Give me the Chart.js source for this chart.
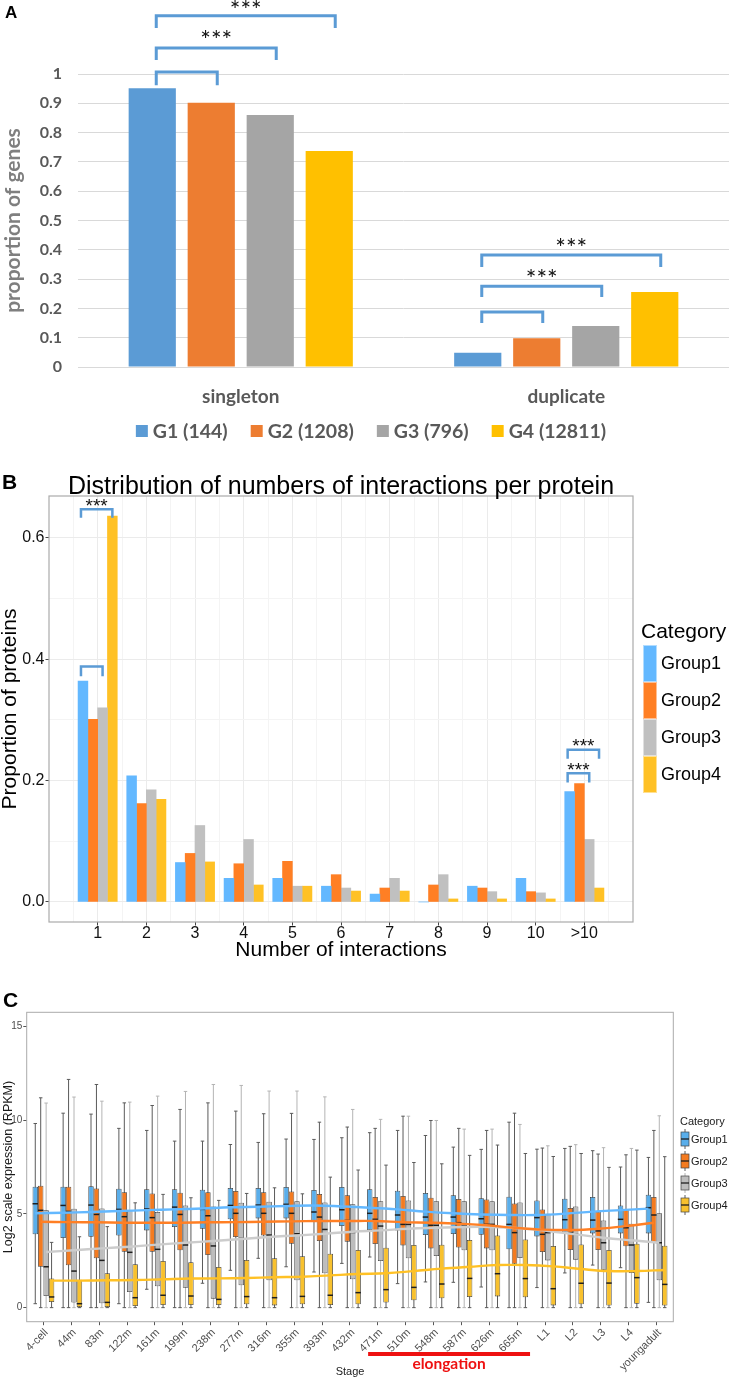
<!DOCTYPE html>
<html>
<head>
<meta charset="utf-8">
<script src="https://cdn.jsdelivr.net/npm/chart.js@4/dist/chart.umd.min.js"></script>
<style>
html, body { margin: 0; padding: 0; background: #fff; }
#page { position: relative; width: 729px; height: 1379px; overflow: hidden; background: #fff; }
canvas { position: absolute; left: 0; }
.tag { position: absolute; font-family: "Liberation Sans", Arial, sans-serif; font-weight: bold; line-height: 1; color: #000; }
</style>
</head>
<body>
<div id="page">
  <canvas id="chartA" width="729" height="460" style="top:0"></canvas>
  <canvas id="chartB" width="729" height="500" style="top:465px"></canvas>
  <canvas id="chartC" width="729" height="394" style="top:985px"></canvas>
  <div class="tag" style="left:5px;top:4px;font-size:17px">A</div>
  <div class="tag" style="left:2px;top:471px;font-size:21px">B</div>
  <div class="tag" style="left:3px;top:989px;font-size:21px">C</div>
</div>
<script>
// ---------- panel A data ----------
const categoriesA = ["singleton", "duplicate"];
const groupsA = ["G1 (144)", "G2 (1208)", "G3 (796)", "G4 (12811)"];
const g1A = [0.951, 0.049];
const g2A = [0.902, 0.098];
const g3A = [0.860, 0.140];
const g4A = [0.737, 0.256];

// ---------- panel B data ----------
const interactionX = [1, 2, 3, 4, 5, 6, 7, 8, 9, 10, 11];
const interactionLabels = ["1", "2", "3", "4", "5", "6", "7", "8", "9", "10", ">10"];
const groupsB = ["Group1", "Group2", "Group3", "Group4"];
const group1B = [0.364, 0.208, 0.065, 0.039, 0.039, 0.026, 0.013, 0, 0.026, 0.039, 0.182];
const group2B = [0.301, 0.162, 0.080, 0.063, 0.067, 0.045, 0.023, 0.028, 0.023, 0.017, 0.195];
const group3B = [0.320, 0.185, 0.126, 0.103, 0.026, 0.023, 0.039, 0.045, 0.017, 0.015, 0.103];
const group4B = [0.636, 0.169, 0.066, 0.028, 0.026, 0.018, 0.018, 0.005, 0.005, 0.005, 0.023];

// ---------- panel C data ----------
const stageLabels = ["4-cell", "44m", "83m", "122m", "161m", "199m", "238m", "277m", "316m", "355m", "393m", "432m",
  "471m", "510m", "548m", "587m", "626m", "665m", "L1", "L2", "L3", "L4", "youngadult"];

const g1High = [9.82, 10.37, 10.32, 9.56, 9.45, 8.88, 8.88, 8.70, 8.81, 8.99, 8.97, 9.06, 9.33, 9.45, 9.18, 8.56, 8.44, 9.89, 8.45, 8.49, 8.37, 7.50, 8.01];
const g1Q3 = [6.45, 6.45, 6.48, 6.34, 6.31, 6.32, 6.29, 6.38, 6.38, 6.43, 6.27, 6.43, 6.31, 6.23, 6.11, 5.99, 5.83, 5.91, 5.72, 5.81, 5.90, 5.45, 6.02];
const g1Med = [5.54, 5.45, 5.47, 5.24, 5.26, 5.36, 5.24, 5.45, 5.47, 5.51, 5.10, 5.22, 5.03, 4.94, 4.83, 4.83, 4.74, 4.44, 4.80, 4.69, 4.67, 4.71, 5.33];
const g1Q1 = [3.91, 3.71, 3.78, 3.85, 4.12, 4.30, 4.21, 4.71, 4.76, 4.76, 4.60, 4.35, 4.14, 4.12, 3.87, 3.93, 3.89, 3.11, 3.80, 3.96, 3.96, 3.96, 3.96];
const g1Low = [0.21, 0, 0, 0.21, 0.98, 0, 1.30, 1.99, 2.63, 2.18, 1.90, 2.36, 2.70, 1.28, 1.37, 1.35, 1.10, 0, 1.07, 1.85, 2.27, 2.13, 0.28];
const g1Trend = [5.03, 5.06, 5.10, 5.15, 5.20, 5.24, 5.29, 5.35, 5.38, 5.42, 5.45, 5.40, 5.33, 5.24, 5.12, 5.03, 4.97, 4.94, 4.94, 5.01, 5.12, 5.20, 5.28];

const g2High = [11.19, 12.17, 11.90, 10.92, 10.78, 10.57, 10.92, 10.48, 10.34, 10.36, 9.89, 9.63, 9.56, 10.21, 9.98, 9.56, 9.45, 10.37, 8.51, 8.60, 8.19, 8.15, 9.45];
const g2Q3 = [6.50, 6.45, 6.36, 6.16, 6.09, 6.13, 6.16, 6.22, 6.15, 6.20, 6.06, 5.99, 5.90, 5.95, 5.86, 5.79, 5.77, 5.56, 5.24, 5.31, 5.12, 5.24, 5.90];
const g2Med = [5.19, 5.13, 4.97, 4.85, 4.80, 4.97, 4.90, 5.03, 5.03, 5.03, 4.83, 4.65, 4.71, 4.44, 4.39, 4.53, 4.44, 4.00, 3.91, 4.00, 4.09, 4.26, 4.94];
const g2Q1 = [2.18, 2.26, 2.63, 2.98, 2.98, 3.06, 2.81, 3.77, 3.85, 3.41, 3.55, 3.52, 3.39, 3.32, 3.16, 3.21, 3.16, 2.34, 2.97, 3.07, 3.07, 3.27, 3.46];
const g2Low = [0, 0, 0, 0, 0, 0, 0, 0, 0, 0, 0, 0, 0, 0, 0, 0, 0, 0, 0, 0, 0, 0, 0];
const g2Trend = [4.58, 4.56, 4.55, 4.53, 4.53, 4.53, 4.55, 4.56, 4.58, 4.60, 4.62, 4.62, 4.62, 4.56, 4.53, 4.48, 4.39, 4.26, 4.16, 4.14, 4.21, 4.35, 4.53];

const g3High = [10.91, 11.23, 11.01, 10.96, 11.28, 11.53, 11.90, 11.85, 11.55, 11.55, 11.24, 10.57, 10.04, 10.21, 9.98, 9.52, 9.52, 9.77, 8.63, 8.69, 8.53, 8.49, 10.23];
const g3Q3 = [5.19, 5.28, 5.29, 5.19, 5.10, 5.45, 5.40, 5.59, 5.65, 5.68, 5.61, 5.51, 5.67, 5.72, 5.68, 5.68, 5.67, 5.61, 5.01, 5.40, 4.65, 4.48, 5.03];
const g3Med = [2.18, 1.95, 2.52, 2.95, 3.11, 3.34, 3.29, 3.69, 3.87, 3.94, 4.17, 4.01, 4.35, 4.44, 4.39, 4.35, 4.44, 4.26, 4.00, 3.91, 3.46, 3.34, 3.46];
const g3Q1 = [0.62, 0.27, 0.23, 0.83, 1.14, 1.06, 0.48, 1.19, 1.46, 1.46, 1.83, 1.51, 2.49, 2.63, 2.75, 3.06, 3.06, 2.65, 2.52, 2.56, 2.02, 1.85, 1.46];
const g3Low = [0, 0, 0, 0, 0, 0, 0, 0, 0, 0, 0, 0, 0, 0, 0, 0, 0, 0, 0, 0, 0, 0, 0];
const g3Trend = [2.97, 3.06, 3.16, 3.25, 3.36, 3.46, 3.55, 3.66, 3.77, 3.85, 3.94, 4.05, 4.12, 4.21, 4.26, 4.30, 4.30, 4.23, 4.09, 3.91, 3.73, 3.59, 3.46];

const g4High = [3.48, 3.78, 4.32, 5.59, 6.04, 5.86, 5.72, 6.09, 6.39, 6.07, 6.96, 7.34, 7.60, 7.74, 7.67, 8.12, 8.67, 8.22, 8.06, 8.22, 7.48, 8.40, 8.05];
const g4Q3 = [1.56, 1.49, 1.83, 2.31, 2.49, 2.42, 2.17, 2.54, 2.63, 2.74, 2.88, 3.07, 3.20, 3.34, 3.36, 3.61, 3.85, 3.64, 3.29, 3.37, 3.07, 3.41, 3.30];
const g4Med = [0.57, 0.21, 0.28, 0.53, 0.66, 0.62, 0.44, 0.59, 0.53, 0.60, 0.66, 0.80, 0.96, 1.08, 1.26, 1.56, 1.81, 1.55, 1.01, 1.30, 1.31, 1.60, 1.24];
const g4Q1 = [0.30, 0, 0, 0.09, 0.14, 0.14, 0.14, 0.18, 0.12, 0.18, 0.14, 0.18, 0.27, 0.39, 0.50, 0.57, 0.60, 0.55, 0.12, 0.18, 0.11, 0.21, 0.11];
const g4Low = [0, 0, 0, 0, 0, 0, 0, 0, 0, 0, 0, 0, 0, 0, 0, 0, 0, 0, 0, 0, 0, 0, 0];
const g4Trend = [1.44, 1.44, 1.46, 1.47, 1.51, 1.55, 1.56, 1.58, 1.62, 1.65, 1.72, 1.79, 1.83, 1.95, 2.08, 2.18, 2.27, 2.27, 2.20, 2.06, 1.95, 1.95, 2.01];

// ---------- styles ----------
const colorsA = ["#5B9BD5", "#ED7D31", "#A5A5A5", "#FFC000"];
const colorsB = ["#63B8FF", "#FF7F24", "#C0C0C0", "#FFC125"];
const boxFill = ["#5AAEEA", "#F47B20", "#BDBDBD", "#F8C12E"];
const trendColor = ["#63B8FF", "#FF7F24", "#CCCCCC", "#FFC125"];
const whiskerColor = ["#5A5A5A", "#5A5A5A", "#B4B4B4", "#5A5A5A"];
const bracketColor = "#5B9BD5";
const fontA = "Lato";
const fontB = "'Liberation Sans', Arial, sans-serif";

Chart.defaults.animation = false;
Chart.defaults.plugins.tooltip.enabled = false;
Chart.defaults.plugins.legend.display = false;

function drawBracket(ctx, x0, x1, yTop, yLeg, width) {
  ctx.save();
  ctx.strokeStyle = bracketColor;
  ctx.lineWidth = width;
  ctx.lineJoin = "miter";
  ctx.beginPath();
  ctx.moveTo(x0, yLeg);
  ctx.lineTo(x0, yTop);
  ctx.lineTo(x1, yTop);
  ctx.lineTo(x1, yLeg);
  ctx.stroke();
  ctx.restore();
}

// ================= Panel A =================
// [category, from group, to group, bracket value, leg value, stars value]
const bracketsA = [
  [0, 0, 1, 1.007, 0.962, null],
  [0, 0, 2, 1.089, 1.048, 1.133],
  [0, 0, 3, 1.199, 1.157, 1.235],
  [1, 0, 1, 0.188, 0.150, null],
  [1, 0, 2, 0.276, 0.239, 0.317],
  [1, 0, 3, 0.382, 0.341, 0.423]
];

const annotA = {
  id: "annotA",
  afterDraw(chart) {
    const ctx = chart.ctx, y = chart.scales.y;
    bracketsA.forEach(([c, a, b, top, leg, star]) => {
      const xa = chart.getDatasetMeta(a).data[c].x + 4;
      const xb = chart.getDatasetMeta(b).data[c].x + 6;
      drawBracket(ctx, xa, xb, y.getPixelForValue(top), y.getPixelForValue(leg), 3);
      if (star !== null) {
        ctx.save();
        ctx.fillStyle = "#111";
        ctx.font = "25px " + fontA;
        ctx.textAlign = "center";
        ctx.textBaseline = "alphabetic";
        ctx.fillText("***", (xa + xb) / 2, y.getPixelForValue(star) + 14);
        ctx.restore();
      }
    });
    // legend
    ctx.save();
    ctx.font = "bold 19.5px " + fontA;
    ctx.textBaseline = "middle";
    const gap = 23, box = 12, pad = 5;
    const widths = groupsA.map(g => box + pad + ctx.measureText(g).width);
    const total = widths.reduce((s, w) => s + w, 0) + gap * (groupsA.length - 1);
    let x = 371 - total / 2;
    const yc = 431;
    groupsA.forEach((g, k) => {
      ctx.fillStyle = colorsA[k];
      ctx.fillRect(x, yc - 6, box, box);
      ctx.fillStyle = "#595959";
      ctx.fillText(g, x + box + pad, yc + 1);
      x += widths[k] + gap;
    });
    ctx.restore();
  }
};

new Chart(document.getElementById("chartA"), {
  type: "bar",
  data: {
    labels: categoriesA,
    datasets: [g1A, g2A, g3A, g4A].map((d, k) => ({
      label: groupsA[k],
      data: d,
      backgroundColor: colorsA[k],
      categoryPercentage: 0.725,
      barPercentage: 0.8
    }))
  },
  options: {
    responsive: false,
    layout: { padding: { top: 74, left: 0, right: 0, bottom: 53 } },
    scales: {
      x: {
        grid: { display: false, drawTicks: false },
        border: { color: "#D9D9D9" },
        ticks: { padding: 18, color: "#595959", font: { family: fontA, weight: "bold", size: 19 } },
        afterFit: s => { s.height = 40; }
      },
      y: {
        min: 0, max: 1,
        ticks: {
          stepSize: 0.1, padding: 16, color: "#595959",
          font: { family: fontA, weight: "bold", size: 16 },
          callback: v => String(Math.round(v * 10) / 10)
        },
        grid: { color: "#D9D9D9", drawTicks: false },
        border: { display: false },
        title: {
          display: true, text: "proportion of genes", color: "#7F7F7F",
          font: { family: fontA, weight: "bold", size: 21, lineHeight: 1 },
          padding: { top: 3, bottom: 0 }
        },
        afterFit: s => { s.width = 78; }
      }
    }
  },
  plugins: [annotA]
});

// ================= Panel B =================
// [category index, from group, to group, bracket value, leg value, stars value]
const bracketsB = [
  [0, 0, 3, 0.647, 0.633, 0.660],
  [0, 0, 2, 0.388, 0.372, null],
  [10, 0, 3, 0.251, 0.236, 0.265],
  [10, 0, 2, 0.212, 0.197, 0.225]
];

const annotB = {
  id: "annotB",
  afterDraw(chart) {
    const ctx = chart.ctx, y = chart.scales.y, a = chart.chartArea;
    ctx.save();
    // panel border
    ctx.strokeStyle = "#ABABAB";
    ctx.lineWidth = 1.2;
    ctx.strokeRect(a.left, a.top, a.right - a.left, a.bottom - a.top);
    // title
    ctx.fillStyle = "#000";
    ctx.font = "25px " + fontB;
    ctx.textAlign = "center";
    ctx.textBaseline = "middle";
    ctx.fillText("Distribution of numbers of interactions per protein", (a.left + a.right) / 2, 22);
    // brackets
    bracketsB.forEach(([c, f, t, top, leg, star]) => {
      const xa = chart.getDatasetMeta(f).data[c].x - 2;
      const xb = chart.getDatasetMeta(t).data[c].x;
      drawBracket(ctx, xa, xb, y.getPixelForValue(top), y.getPixelForValue(leg), 2.5);
      if (star !== null) {
        ctx.fillStyle = "#111";
        ctx.font = "19px " + fontB;
        ctx.textAlign = "center";
        ctx.textBaseline = "alphabetic";
        ctx.fillText("***", (xa + xb) / 2, y.getPixelForValue(star) + 11);
      }
    });
    // legend
    ctx.textAlign = "left";
    ctx.textBaseline = "middle";
    ctx.fillStyle = "#000";
    ctx.font = "21px " + fontB;
    ctx.fillText("Category", 641, 167);
    ctx.font = "18px " + fontB;
    groupsB.forEach((g, k) => {
      const top = 180 + k * 37;
      ctx.fillStyle = colorsB[k];
      ctx.fillRect(643, top, 14, 37);
      ctx.strokeStyle = "rgba(255,255,255,0.5)";
      ctx.lineWidth = 1;
      ctx.strokeRect(643.5, top + 0.5, 13, 36);
      ctx.fillStyle = "#000";
      ctx.fillText(g, 661, top + 19);
    });
    ctx.restore();
  }
};

const minorB = v => Math.abs(v - Math.round(v)) > 1e-6;
const majorYB = v => Math.round(v * 10) % 2 === 0;
const tickVal = c => (c.tick ? c.tick.value : 0);

new Chart(document.getElementById("chartB"), {
  type: "bar",
  data: {
    datasets: [group1B, group2B, group3B, group4B].map((d, k) => ({
      label: groupsB[k],
      data: d.map((v, i) => ({ x: interactionX[i], y: v })),
      backgroundColor: colorsB[k],
      barThickness: 9.8
    }))
  },
  options: {
    responsive: false,
    layout: { padding: { top: 31, left: 0, right: 96, bottom: 0 } },
    scales: {
      x: {
        type: "linear", min: 0, max: 12, offset: false,
        afterBuildTicks: s => {
          const t = [];
          for (let v = 0.5; v < 12; v += 0.5) t.push({ value: v });
          s.ticks = t;
        },
        ticks: {
          autoSkip: false, maxRotation: 0, padding: 0, color: "#111",
          font: { family: fontB, size: 16, lineHeight: 1 },
          callback: v => minorB(v) ? "" : interactionLabels[Math.round(v) - 1]
        },
        grid: {
          offset: false,
          color: c => minorB(tickVal(c)) ? "#F4F4F4" : "#EBEBEB",
          tickColor: c => minorB(tickVal(c)) ? "rgba(0,0,0,0)" : "#444",
          tickLength: 3.5
        },
        border: { display: false },
        title: {
          display: true, text: "Number of interactions", color: "#000",
          font: { family: fontB, size: 21, lineHeight: 1 },
          padding: { top: 0, bottom: 4.5 }
        },
        afterFit: s => { s.height = 43; }
      },
      y: {
        min: -0.033, max: 0.669,
        afterBuildTicks: s => {
          s.ticks = [0, 0.1, 0.2, 0.3, 0.4, 0.5, 0.6].map(v => ({ value: v }));
        },
        ticks: {
          padding: 1, color: "#111",
          font: { family: fontB, size: 16, lineHeight: 1 },
          callback: v => majorYB(v) ? v.toFixed(1) : ""
        },
        grid: {
          color: c => majorYB(tickVal(c)) ? "#EBEBEB" : "#F4F4F4",
          tickColor: c => majorYB(tickVal(c)) ? "#444" : "rgba(0,0,0,0)",
          tickLength: 3.5
        },
        border: { display: false },
        title: {
          display: true, text: "Proportion of proteins", color: "#000",
          font: { family: fontB, size: 21, lineHeight: 1 },
          padding: { top: 0, bottom: 0 }
        },
        afterFit: s => { s.width = 49; }
      }
    }
  },
  plugins: [annotB]
});

// ================= Panel C =================
const boxStats = [
  { low: g1Low, q1: g1Q1, med: g1Med, q3: g1Q3, high: g1High },
  { low: g2Low, q1: g2Q1, med: g2Med, q3: g2Q3, high: g2High },
  { low: g3Low, q1: g3Q1, med: g3Med, q3: g3Q3, high: g3High },
  { low: g4Low, q1: g4Q1, med: g4Med, q3: g4Q3, high: g4High }
];
const trends = [g1Trend, g2Trend, g3Trend, g4Trend];
const dodge = 0.78;
const trendOffset = [-1.5, -0.5, 0.5, 1.5].map(k => k * dodge / 4);

const boxParts = {
  id: "boxParts",
  beforeDatasetsDraw(chart) {
    const ctx = chart.ctx, y = chart.scales.y;
    ctx.save();
    ctx.lineWidth = 1;
    boxStats.forEach((s, d) => {
      ctx.strokeStyle = whiskerColor[d];
      chart.getDatasetMeta(d).data.forEach((bar, i) => {
        const x = bar.x, cap = bar.width * 0.32;
        const yHi = y.getPixelForValue(s.high[i]), yLo = y.getPixelForValue(s.low[i]);
        ctx.beginPath();
        ctx.moveTo(x, yHi); ctx.lineTo(x, yLo);
        ctx.moveTo(x - cap, yHi); ctx.lineTo(x + cap, yHi);
        ctx.moveTo(x - cap, yLo); ctx.lineTo(x + cap, yLo);
        ctx.stroke();
      });
    });
    ctx.restore();
  },
  afterDatasetDraw(chart, args) {
    if (args.index > 3) return;
    const ctx = chart.ctx, y = chart.scales.y, s = boxStats[args.index];
    ctx.save();
    ctx.strokeStyle = "#1E1E1E";
    ctx.lineWidth = 1.5;
    args.meta.data.forEach((bar, i) => {
      const ym = y.getPixelForValue(s.med[i]);
      ctx.beginPath();
      ctx.moveTo(bar.x - bar.width / 2, ym);
      ctx.lineTo(bar.x + bar.width / 2, ym);
      ctx.stroke();
    });
    ctx.restore();
  },
  afterDraw(chart) {
    const ctx = chart.ctx, a = chart.chartArea, x = chart.scales.x;
    ctx.save();
    ctx.strokeStyle = "#ABABAB";
    ctx.lineWidth = 1;
    ctx.strokeRect(a.left, a.top, a.right - a.left, a.bottom - a.top);
    // elongation mark
    const x0 = x.getPixelForValue(12.65), x1 = x.getPixelForValue(18.46);
    ctx.fillStyle = "#EE1111";
    ctx.fillRect(x0, 367, x1 - x0, 4);
    ctx.font = "bold 15.5px " + fontA;
    ctx.textAlign = "center";
    ctx.textBaseline = "middle";
    ctx.fillText("elongation", (x0 + x1) / 2, 379);
    // legend
    ctx.textAlign = "left";
    ctx.fillStyle = "#1A1A1A";
    ctx.font = "11px " + fontB;
    ctx.fillText("Category", 680, 137);
    groupsB.forEach((g, k) => {
      const yc = 154 + k * 22;
      ctx.strokeStyle = whiskerColor[k];
      ctx.lineWidth = 1;
      ctx.beginPath();
      ctx.moveTo(685, yc - 10); ctx.lineTo(685, yc + 10);
      ctx.stroke();
      ctx.fillStyle = boxFill[k];
      ctx.fillRect(681, yc - 7, 8, 14);
      ctx.strokeStyle = "#444";
      ctx.lineWidth = 0.7;
      ctx.strokeRect(681, yc - 7, 8, 14);
      ctx.lineWidth = 1.3;
      ctx.strokeStyle = "#1E1E1E";
      ctx.beginPath();
      ctx.moveTo(681, yc); ctx.lineTo(689, yc);
      ctx.stroke();
      ctx.fillStyle = "#1A1A1A";
      ctx.fillText(g, 691, yc + 1);
    });
    ctx.restore();
  }
};

const stageX = stageLabels.map((_, i) => i + 1);

new Chart(document.getElementById("chartC"), {
  type: "bar",
  data: {
    datasets: [
      ...boxStats.map((s, k) => ({
        type: "bar",
        label: groupsB[k],
        order: 1,
        data: stageX.map((x, i) => ({ x: x, y: [s.q1[i], s.q3[i]] })),
        backgroundColor: boxFill[k],
        borderColor: "#3C3C3C",
        borderWidth: 0.8,
        borderSkipped: false,
        categoryPercentage: dodge,
        barPercentage: 1
      })),
      ...trends.map((t, k) => ({
        type: "line",
        label: groupsB[k] + " trend",
        order: 0,
        data: stageX.map((x, i) => ({ x: x + trendOffset[k], y: t[i] })),
        borderColor: trendColor[k],
        borderWidth: 2.4,
        pointRadius: 0,
        tension: 0.4,
        fill: false
      }))
    ]
  },
  options: {
    responsive: false,
    layout: { padding: { top: 27.3, left: 0, right: 55.7, bottom: 0 } },
    scales: {
      x: {
        type: "linear", min: 0.4, max: 23.6, offset: false,
        afterBuildTicks: s => { s.ticks = stageX.map(v => ({ value: v })); },
        ticks: {
          autoSkip: false, minRotation: 45, maxRotation: 45, padding: 1, labelOffset: 3, color: "#4D4D4D",
          font: { family: fontB, size: 11 },
          callback: v => stageLabels[Math.round(v) - 1]
        },
        grid: { offset: false, drawOnChartArea: false, color: "rgba(0,0,0,0)", tickColor: "#555", tickLength: 3.5 },
        border: { display: false },
        title: {
          display: true, text: "Stage", color: "#1A1A1A",
          font: { family: fontB, size: 11, lineHeight: 1 },
          padding: { top: 0, bottom: 1.8 }
        },
        afterFit: s => { s.height = 57.3; }
      },
      y: {
        min: -0.75, max: 15.75,
        afterBuildTicks: s => { s.ticks = [0, 5, 10, 15].map(v => ({ value: v })); },
        ticks: { padding: 1, color: "#4D4D4D", font: { family: fontB, size: 10 } },
        grid: { drawOnChartArea: false, color: "rgba(0,0,0,0)", tickColor: "#555", tickLength: 3.4 },
        border: { display: false },
        title: {
          display: true, text: "Log2 scale expression (RPKM)", color: "#1A1A1A",
          font: { family: fontB, size: 12.5, lineHeight: 1 },
          padding: { top: 2.5, bottom: 0 }
        },
        afterFit: s => { s.width = 26.7; }
      }
    }
  },
  plugins: [boxParts]
});
</script>
</body>
</html>
